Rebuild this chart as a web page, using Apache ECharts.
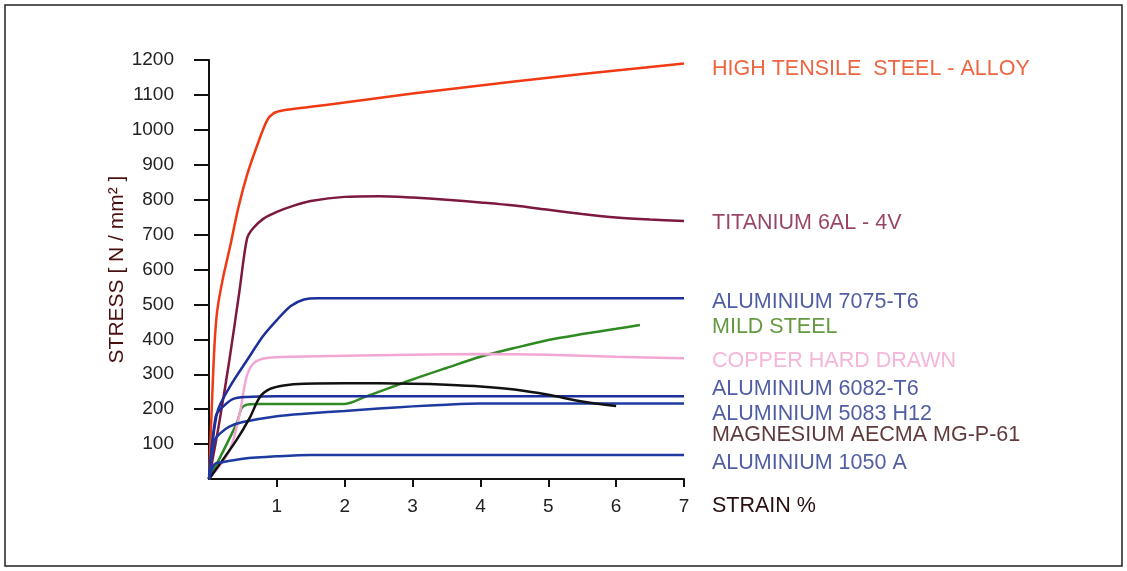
<!DOCTYPE html>
<html>
<head>
<meta charset="utf-8">
<script src="https://cdn.jsdelivr.net/npm/echarts@6/dist/echarts.min.js"></script>
<style>
html,body{margin:0;padding:0;background:#fff;}
#chart{width:1127px;height:571px;}
</style>
</head>
<body>
<div id="chart"></div>
<script>
// ---- data (strain %, stress N/mm²) ----
const xTicks = [1, 2, 3, 4, 5, 6, 7];
const yTicks = [100, 200, 300, 400, 500, 600, 700, 800, 900, 1000, 1100, 1200];

const highTensileSteel = [[0,0],[0.04,200],[0.08,380],[0.12,480],[0.2,570],[0.31,665],[0.43,775],[0.56,870],[0.7,950],[0.85,1025],[0.95,1047],[1.1,1056],[1.5,1066],[2,1078],[3,1104],[4,1127],[5,1149],[6,1170],[7,1190]];
const titanium = [[0,0],[0.15,160],[0.3,340],[0.45,540],[0.56,688],[0.65,718],[0.8,745],[1,765],[1.25,783],[1.5,796],[2,808],[2.5,810],[3,806],[3.5,800],[4,792],[4.5,783],[5,771],[5.5,759],[6,749],[6.5,743],[7,739]];
const al7075 = [[0,0],[0.12,190],[0.3,262],[0.56,340],[0.8,410],[1,455],[1.2,495],[1.4,514],[1.6,518],[7,518]];
const mildSteel = [[0,0],[0.41,160],[0.48,203],[0.56,213],[0.7,215],[2,215],[2.3,235],[3,285],[3.5,318],[4,350],[4.5,375],[5,398],[5.5,415],[6,430],[6.35,441]];
const copperHardDrawn = [[0,0],[0.3,80],[0.45,185],[0.55,290],[0.65,330],[0.8,345],[1,349],[2,353],[3,356],[4,358],[5,356],[6,350],[7,346]];
const al6082 = [[0,0],[0.1,180],[0.2,206],[0.35,229],[0.55,235],[1,237],[7,237]];
const al5083 = [[0,0],[0.08,110],[0.16,130],[0.3,150],[0.5,163],[1,180],[1.5,188],[2,195],[2.5,202],[3,208],[3.5,213],[4,216],[7,216]];
const magnesium = [[0,0],[0.4,110],[0.6,175],[0.75,235],[0.9,258],[1.1,268],[1.4,273],[2,274],[2.5,274],[3,273],[3.5,270],[4,265],[4.5,256],[5,241],[5.5,222],[6,209]];
const al1050 = [[0,0],[0.08,42],[0.2,48],[0.5,58],[1,65],[1.5,69],[7,69]];

const seriesNames = ['HIGH TENSILE  STEEL - ALLOY','TITANIUM 6AL - 4V','ALUMINIUM 7075-T6','MILD STEEL','COPPER HARD DRAWN','ALUMINIUM 6082-T6','ALUMINIUM 5083 H12','MAGNESIUM AECMA MG-P-61','ALUMINIUM 1050 A'];
const seriesData = [highTensileSteel, titanium, al7075, mildSteel, copperHardDrawn, al6082, al5083, magnesium, al1050];
const lineColors = ['#f03a14','#7d1840','#1c2f9a','#2f8a22','#f2a6d4','#1c2f9a','#1c3aa0','#111111','#1c3aa0'];
const labelColors = ['#ea3f12','#7e1442','#25348c','#3f8010','#f2a4d0','#25348c','#25348c','#350808','#25348c'];
// label anchor stress values at strain 7
const labelStress = [1174, 734, 508, 436, 338, 257, 186, 126, 47];
const labelStrain = 7;

const FONT = '"Liberation Sans", Arial, sans-serif';

const chart = echarts.init(document.getElementById('chart'));

const lineSeries = seriesData.map((d, i) => ({
  name: seriesNames[i],
  type: 'line',
  data: d,
  smooth: 0.3,
  symbol: 'none',
  lineStyle: { color: lineColors[i], width: 2.5 },
  z: 3
}));

const labelSeries = {
  type: 'scatter',
  symbolSize: 0,
  silent: true,
  data: labelStress.map((v, i) => ({
    value: [labelStrain, v],
    label: {
      show: true,
      position: 'right',
      distance: 28,
      formatter: seriesNames[i],
      color: labelColors[i],
      fontSize: 21.5,
      fontFamily: FONT
    }
  })),
  z: 5
};

chart.setOption({
  backgroundColor: '#ffffff',
  animation: false,
  grid: { left: 209, right: 443, top: 60, bottom: 92 },
  graphic: [{
    type: 'rect',
    shape: { x: 5, y: 5, width: 1117, height: 561 },
    style: { fill: 'none', stroke: '#222', lineWidth: 1.5 },
    silent: true
  }],
  xAxis: {
    type: 'value',
    min: 0, max: 7, interval: 1,
    name: 'STRAIN %',
    nameLocation: 'end',
    nameGap: 28,
    nameTextStyle: { color: '#2a1010', fontSize: 21.5, fontFamily: FONT, align: 'left', verticalAlign: 'top', padding: [16, 0, 0, 0] },
    axisLine: { show: true, onZero: false, lineStyle: { color: '#111', width: 2 } },
    axisTick: { show: true, customValues: xTicks, length: 8, lineStyle: { color: '#111', width: 2 } },
    axisLabel: { customValues: xTicks, margin: 18, color: '#222', fontSize: 19, fontFamily: FONT, formatter: v => String(v) },
    splitLine: { show: false }
  },
  yAxis: {
    type: 'value',
    min: 0, max: 1200, interval: 100,
    name: 'STRESS [ N / mm² ]',
    nameLocation: 'middle',
    nameRotate: 90,
    nameGap: 80,
    nameTextStyle: { color: '#4a1010', fontSize: 21, fontFamily: FONT },
    axisLine: { show: true, lineStyle: { color: '#111', width: 2 } },
    axisTick: { show: true, customValues: yTicks, length: 15, lineStyle: { color: '#111', width: 2 } },
    axisLabel: { customValues: yTicks, margin: 35, color: '#222', fontSize: 19, fontFamily: FONT, formatter: v => String(v) },
    splitLine: { show: false }
  },
  series: lineSeries.concat([labelSeries])
});
</script>
</body>
</html>
